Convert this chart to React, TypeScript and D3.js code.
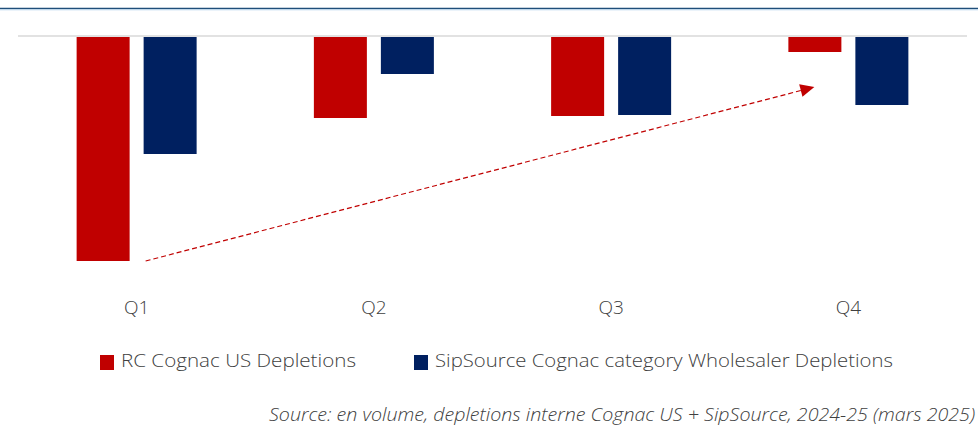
import React from "react";
import * as d3 from "d3";

const categories = ["Q1", "Q2", "Q3", "Q4"];
const seriesNames = ["RC Cognac US Depletions", "SipSource Cognac category Wholesaler Depletions"];
const rcValues = [-22.4, -8.1, -7.9, -1.5];
const sipValues = [-11.7, -3.7, -7.8, -6.8];
const colors = ["#C00000", "#002060"];
const sourceText = "Source: en volume, depletions interne Cognac US + SipSource, 2024-25 (mars 2025)";

const W = 978;
const H = 435;
const FONT = "'Open Sans', Lato, sans-serif";

export default function App() {
  const x = d3.scaleBand<string>().domain(categories).range([18, 967]);
  const y = d3.scaleLinear().domain([-25, 0]).range([287, 37]);
  const barW = 53;
  const gap = 14;

  const series = [rcValues, sipValues];

  const c0 = x(categories[0])! + x.bandwidth() / 2;
  const c3 = x(categories[3])! + x.bandwidth() / 2;
  const arrowStart: [number, number] = [c0 + 9, y(rcValues[0])];
  const arrowEnd: [number, number] = [c3 - 34, y(-5.0)];
  const ang = Math.atan2(arrowEnd[1] - arrowStart[1], arrowEnd[0] - arrowStart[0]);
  const headLen = 14;
  const headHalf = 6.5;
  const bx = arrowEnd[0] - headLen * Math.cos(ang);
  const by = arrowEnd[1] - headLen * Math.sin(ang);
  const px = -Math.sin(ang);
  const py = Math.cos(ang);
  const head = [
    [arrowEnd[0], arrowEnd[1]],
    [bx + headHalf * px, by + headHalf * py],
    [bx - headHalf * px, by - headHalf * py],
  ];
  const legendWidths = [235, 458];

  return (
    <svg width={W} height={H} style={{ position: "absolute", left: 0, top: 0 }}>
      <rect x={0} y={0} width={W} height={H} fill="#ffffff" />
      <line x1={0} x2={W} y1={8.5} y2={8.5} stroke="#1F4E79" strokeWidth={1.5} />
      <line x1={0} x2={W} y1={9.8} y2={9.8} stroke="#BDD7EE" strokeWidth={1} />
      <line x1={18} x2={967} y1={36} y2={36} stroke="#D9D9D9" strokeWidth={1.5} />
      {categories.map((c, i) => {
        const cx = x(c)! + x.bandwidth() / 2;
        return (
          <g key={c}>
            {series.map((vals, s) => {
              const v = vals[i];
              const bx0 = s === 0 ? cx - gap / 2 - barW : cx + gap / 2;
              return (
                <rect
                  key={s}
                  x={bx0}
                  y={y(0)}
                  width={barW}
                  height={y(v) - y(0)}
                  fill={colors[s]}
                />
              );
            })}
            <text
              x={cx}
              y={314}
              textAnchor="middle"
              fontFamily={FONT}
              fontWeight={300}
              fontSize={19}
              fill="#404040"
            >
              {c}
            </text>
          </g>
        );
      })}
      <line
        x1={arrowStart[0]}
        y1={arrowStart[1]}
        x2={bx}
        y2={by}
        stroke="#C00000"
        strokeWidth={1.2}
        strokeDasharray="5,3"
      />
      <polygon points={head.map((p) => p.join(",")).join(" ")} fill="#C00000" />
      {seriesNames.map((n, i) => {
        const lx = i === 0 ? 100 : 414;
        return (
          <g key={n}>
            <rect x={lx} y={355} width={14} height={15} fill={colors[i]} />
            <text
              x={lx + 21}
              y={367}
              fontFamily={FONT}
              fontWeight={300}
              fontSize={19}
              fill="#404040"
              textLength={legendWidths[i]}
              lengthAdjust="spacingAndGlyphs"
            >
              {n}
            </text>
          </g>
        );
      })}
      <text
        x={269}
        y={421}
        fontFamily={FONT}
        fontSize={18}
        fontWeight={300}
        fontStyle="italic"
        fill="#404040"
        textLength={706}
        lengthAdjust="spacingAndGlyphs"
      >
        {sourceText}
      </text>
    </svg>
  );
}
